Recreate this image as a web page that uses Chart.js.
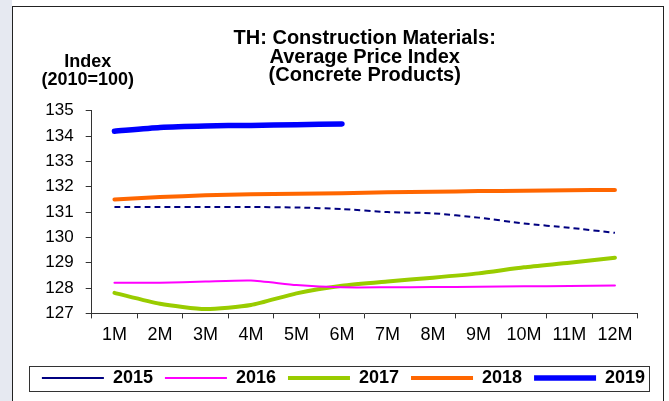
<!DOCTYPE html>
<html>
<head>
<meta charset="utf-8">
<script src="https://cdn.jsdelivr.net/npm/chart.js@4/dist/chart.umd.min.js"></script>
<style>
  html, body { margin: 0; padding: 0; background: #fff; }
  #page { position: relative; width: 669px; height: 401px; overflow: hidden; }
  #strip { position: absolute; left: 0; top: 0; width: 12px; height: 401px; background: #e6e9f1; }
  #frame { position: absolute; left: 12px; top: 6px; width: 650px; height: 400px; border: 1px solid #222; border-bottom: none; }
  #wrap { position: absolute; left: 0; top: 0; width: 669px; height: 401px; }
</style>
</head>
<body>
<div id="page">
  <div id="strip"></div>
  <div id="frame"></div>
  <div id="wrap"><canvas id="chart"></canvas></div>
</div>
<script>
// categories and series
const months = ['1M', '2M', '3M', '4M', '5M', '6M', '7M', '8M', '9M', '10M', '11M', '12M'];
const v2015 = [131.2, 131.2, 131.2, 131.2, 131.18, 131.12, 131.0, 130.95, 130.78, 130.55, 130.38, 130.18];
const v2016 = [128.21, 128.21, 128.26, 128.3, 128.12, 128.03, 128.03, 128.04, 128.05, 128.07, 128.08, 128.1];
const v2017 = [127.81, 127.38, 127.17, 127.33, 127.79, 128.09, 128.26, 128.41, 128.58, 128.82, 129.0, 129.2];
const v2018 = [131.5, 131.59, 131.66, 131.7, 131.72, 131.74, 131.78, 131.8, 131.83, 131.84, 131.86, 131.87];
const v2019 = [134.19, 134.34, 134.4, 134.42, 134.45, 134.48];
const yTicks = { min: 127, max: 135, step: 1 };

const FONT = '"Liberation Sans", Arial, sans-serif';
Chart.defaults.font.family = FONT;
Chart.defaults.color = '#000';

// "Index (2010=100)" sits flat above the y axis, so draw it by hand
const unitLabel = {
  id: 'unitLabel',
  afterDraw(chart) {
    const ctx = chart.ctx;
    const x = chart.chartArea.left - 4;
    const y = chart.chartArea.top;
    ctx.save();
    ctx.font = 'bold 18px ' + FONT;
    ctx.fillStyle = '#000';
    ctx.textAlign = 'center';
    ctx.textBaseline = 'middle';
    ctx.fillText('Index', x, y - 49);
    ctx.fillText('(2010=100)', x, y - 31);
    ctx.restore();
  }
};

// thin box around the legend row
const legendBox = {
  id: 'legendBox',
  afterDraw(chart) {
    const boxes = chart.legend.legendHitBoxes;
    if (!boxes || !boxes.length) return;
    const first = boxes[0], last = boxes[boxes.length - 1];
    const left = Math.round(first.left - 13);
    const right = Math.round(last.left + last.width + 4);
    const cy = first.top + first.height / 2;
    const top = Math.round(cy - 12.5);
    const ctx = chart.ctx;
    ctx.save();
    ctx.strokeStyle = '#333';
    ctx.lineWidth = 1;
    ctx.setLineDash([]);
    ctx.strokeRect(left + 0.5, top + 0.5, right - left, 25);
    ctx.restore();
  }
};

const ctx = document.getElementById('chart');
new Chart(ctx, {
  type: 'line',
  data: {
    labels: months,
    datasets: [
      { label: '2015', data: v2015, borderColor: '#000080', backgroundColor: '#000080',
        borderWidth: 2, borderDash: [6, 4], borderCapStyle: 'butt' },
      { label: '2016', data: v2016, borderColor: '#ff00ff', backgroundColor: '#ff00ff',
        borderWidth: 2, borderCapStyle: 'round' },
      { label: '2017', data: v2017, borderColor: '#99cc00', backgroundColor: '#99cc00',
        borderWidth: 4, borderCapStyle: 'round' },
      { label: '2018', data: v2018, borderColor: '#ff6600', backgroundColor: '#ff6600',
        borderWidth: 4, borderCapStyle: 'round' },
      { label: '2019', data: v2019, borderColor: '#0000ff', backgroundColor: '#0000ff',
        borderWidth: 5.5, borderCapStyle: 'round' }
    ]
  },
  options: {
    responsive: true,
    maintainAspectRatio: false,
    animation: false,
    layout: { padding: { top: 20, left: 28, right: 10, bottom: 4 } },
    elements: {
      point: { radius: 0, hoverRadius: 0 },
      line: { tension: 0.2, borderJoinStyle: 'round' }
    },
    scales: {
      x: {
        offset: true,
        grid: { offset: true, drawOnChartArea: false, tickLength: 5, color: '#333' },
        border: { color: '#333' },
        ticks: { padding: 6, font: { size: 18 }, maxRotation: 0, autoSkip: false },
        // extra room below the month labels, pushes the legend down
        afterFit: (s) => { s.height += 5; }
      },
      y: {
        min: yTicks.min,
        max: yTicks.max,
        grid: { drawOnChartArea: false, tickLength: 6, color: '#333' },
        border: { color: '#333' },
        ticks: { stepSize: yTicks.step, padding: 12, autoSkip: false, font: { size: 17 } },
        afterFit: (s) => { s.width = 63.7; }
      },
      // empty spacer on the right so the plot ends where the reference does
      spacer: {
        type: 'linear',
        position: 'right',
        grid: { display: false },
        border: { display: false },
        ticks: { display: false },
        afterFit: (s) => { s.width = 21.3; }
      }
    },
    plugins: {
      title: {
        display: true,
        fullSize: false,
        text: ['TH: Construction Materials:', 'Average Price Index', '(Concrete Products)'],
        font: { size: 20, weight: 'bold', lineHeight: 0.93 },
        color: '#000',
        padding: { top: 9.4, bottom: 25.5 }
      },
      legend: {
        position: 'bottom',
        labels: {
          usePointStyle: true,
          pointStyle: 'line',
          pointStyleWidth: 62,
          padding: 12,
          color: '#000',
          font: { size: 18, weight: 'bold' }
        }
      },
      tooltip: { enabled: false }
    }
  },
  plugins: [unitLabel, legendBox]
});
</script>
</body>
</html>
